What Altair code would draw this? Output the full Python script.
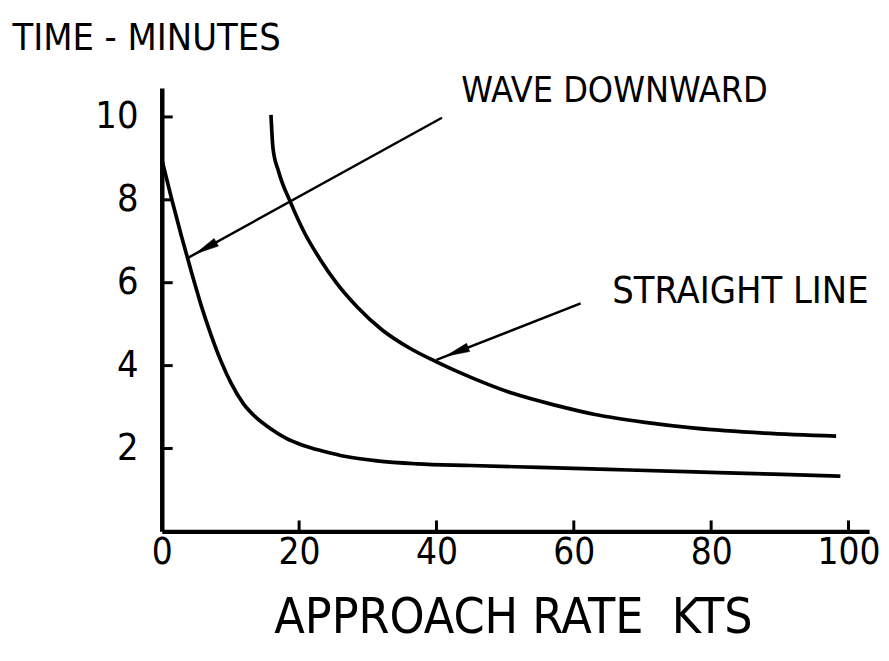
import math
import altair as alt
import pandas as pd

# ---------------- data ----------------
x_ticks = [0, 20, 40, 60, 80, 100]
y_ticks = [2, 4, 6, 8, 10]

# "Wave downward" curve (lower curve)
wave_x = [0, 1.44, 2.89, 4.33, 5.78, 7.22, 8.67, 10.11, 11.85, 13.72, 15.75, 18.06, 20.51,
          23.40, 27.02, 31.35, 37.13, 45, 55, 65, 77.58, 89.14, 98.82]
wave_y = [8.98, 8.02, 7.11, 6.25, 5.43, 4.72, 4.09, 3.57, 3.09, 2.75, 2.49, 2.25, 2.08,
          1.94, 1.80, 1.70, 1.63, 1.59, 1.544, 1.496, 1.435, 1.38, 1.33]

# "Straight line" curve (upper curve)
straight_x = [15.9, 16.2, 17.0, 18.8, 20.8, 23.0, 25.6, 28.5, 32.1, 36.0, 40.0, 45.1,
              51.1, 57.4, 63.1, 70.4, 77.6, 87.7, 98.2]
straight_y = [10.05, 9.24, 8.69, 7.92, 7.20, 6.58, 5.96, 5.41, 4.86, 4.43, 4.09, 3.71,
              3.33, 3.04, 2.82, 2.63, 2.49, 2.37, 2.30]

# annotation labels and their leader arrows (start -> tip)
label_text = ["WAVE DOWNWARD", "STRAIGHT LINE"]
label_x = [43.6, 65.6]
label_y = [10.36, 5.52]
arrow_x0 = [40.8, 61.0]
arrow_y0 = [9.98, 5.5]
arrow_x1 = [3.6, 40.0]
arrow_y1 = [6.58, 4.14]

# ---------------- layout ----------------
FONT = "DejaVu Sans Condensed, Liberation Sans Narrow, sans-serif"
X_MAX = 103
Y_MAX = 10.7
W = 713
H = 447
xs = alt.Scale(domain=[0, X_MAX], nice=False, zero=False)
ys = alt.Scale(domain=[0, Y_MAX], nice=False, zero=False)
px_x = W / X_MAX
px_y = H / Y_MAX

curves = pd.DataFrame({
    "x": wave_x + straight_x,
    "y": wave_y + straight_y,
    "series": ["wave"] * len(wave_x) + ["straight"] * len(straight_x),
})

arrow_rows = []
head_rows = []
for i in range(len(arrow_x0)):
    arrow_rows.append({"x": arrow_x0[i], "y": arrow_y0[i], "a": i, "o": 0})
    arrow_rows.append({"x": arrow_x1[i], "y": arrow_y1[i], "a": i, "o": 1})
    dxp = (arrow_x1[i] - arrow_x0[i]) * px_x
    dyp = -(arrow_y1[i] - arrow_y0[i]) * px_y
    L = math.hypot(dxp, dyp)
    ux, uy = dxp / L, dyp / L
    ang = math.degrees(math.atan2(ux, -uy)) % 360
    back = 22
    cx = arrow_x1[i] - back * ux / px_x
    cy = arrow_y1[i] + back * uy / px_y
    head_rows.append({"x": cx, "y": cy, "angle": ang})
arrows = pd.DataFrame(arrow_rows)
heads = pd.DataFrame(head_rows)
labels = pd.DataFrame({"x": label_x, "y": label_y, "t": label_text})

x_axis = alt.Axis(
    values=x_ticks, domain=True, domainColor="black", domainWidth=4.5,
    ticks=False, grid=False, labelFont=FONT, labelFontSize=37,
    labelColor="black", labelPadding=3, labelFlush=False, labelOverlap=False,
    labelBound=False,
    title="APPROACH RATE\u00a0\u00a0KTS", titleFont=FONT, titleFontSize=50,
    titleFontWeight="normal", titleColor="black", titleAlign="center",
    titleBaseline="alphabetic", titleX=354, titleY=102,
)
y_axis = alt.Axis(
    values=y_ticks, domain=True, domainColor="black", domainWidth=4.5,
    ticks=False, grid=False, labelFont=FONT, labelFontSize=38,
    labelColor="black", labelPadding=24, labelOverlap=False,
    title="TIME - MINUTES", titleFont=FONT, titleFontSize=38,
    titleFontWeight="normal", titleColor="black", titleAngle=0,
    titleAlign="left", titleBaseline="alphabetic", titleX=-151, titleY=-39,
)

X = alt.X("x:Q", scale=xs, axis=x_axis)
Y = alt.Y("y:Q", scale=ys, axis=y_axis)

lines = alt.Chart(curves).mark_line(
    color="black", strokeWidth=3.7, interpolate="monotone", clip=False
).encode(x=X, y=Y, detail="series:N")

arrow_lines = alt.Chart(arrows).mark_line(color="black", strokeWidth=2.5).encode(
    x=X, y=Y, detail="a:N", order="o:Q",
)

arrow_heads = alt.Chart(heads).mark_point(
    shape="M0,-1L0.36,1L-0.36,1Z", filled=True, fill="black", stroke="black",
    strokeWidth=0.5, size=600, opacity=1,
).encode(x=X, y=Y, angle=alt.Angle("angle:Q", scale=None))

text_wave = alt.Chart(labels).transform_filter(
    alt.datum.t == label_text[0]
).mark_text(
    align="left", baseline="alphabetic", font=FONT, fontSize=36, color="black"
).encode(x=X, y=Y, text="t:N")

text_straight = alt.Chart(labels).transform_filter(
    alt.datum.t == label_text[1]
).mark_text(
    align="left", baseline="alphabetic", font=FONT, fontSize=38, color="black"
).encode(x=X, y=Y, text="t:N")

ytick_df = pd.DataFrame({"y": y_ticks})
ytick_rules = alt.Chart(ytick_df).mark_rule(color="black", strokeWidth=3).encode(
    y=Y, x=alt.value(0), x2=alt.value(11),
)
xtick_df = pd.DataFrame({"x": x_ticks[1:]})
xtick_rules = alt.Chart(xtick_df).mark_rule(color="black", strokeWidth=3).encode(
    x=X, y=alt.value(H), y2=alt.value(H - 11),
)

chart = alt.layer(
    lines, arrow_lines, arrow_heads, text_wave, text_straight, ytick_rules, xtick_rules
).properties(
    width=W, height=H,
    autosize=alt.AutoSizeParams(type="none"),
    padding={"left": 155, "top": 78, "right": 12, "bottom": 116},
    background="white",
).configure_view(stroke=None)

chart.save("out.html", embed_options={"renderer": "svg", "actions": False})
